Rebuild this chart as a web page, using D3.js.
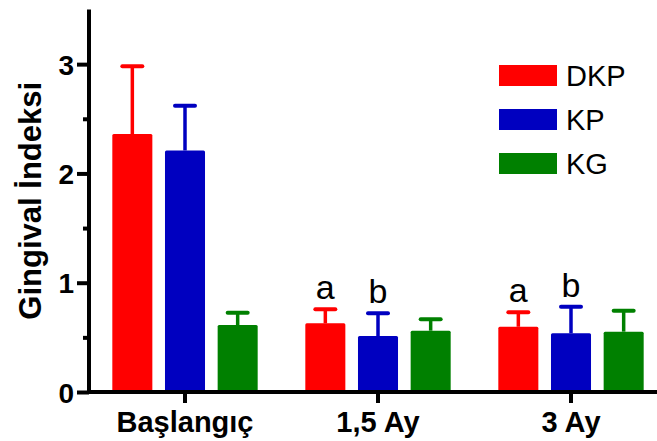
<!DOCTYPE html>
<html>
<head>
<meta charset="utf-8">
<script src="https://cdn.jsdelivr.net/npm/d3@7"></script>
<style>
  html, body { margin: 0; padding: 0; background: #fff; }
  svg { display: block; }
  text { font-family: "Liberation Sans", Arial, sans-serif; }
</style>
</head>
<body>
<svg id="chart" width="657" height="441"></svg>
<script>
// ---- data ----
const categories = ["Başlangıç", "1,5 Ay", "3 Ay"];
const seriesNames = ["DKP", "KP", "KG"];
const seriesColors = ["#ff0000", "#0000c0", "#008000"];
const dkpMean = [2.36, 0.628, 0.597];
const dkpErr  = [0.62, 0.13, 0.132];
const kpMean  = [2.21, 0.512, 0.537];
const kpErr   = [0.41, 0.208, 0.243];
const kgMean  = [0.613, 0.561, 0.552];
const kgErr   = [0.113, 0.104, 0.192];
const yTicks = [0, 1, 2, 3];
const yMinorTicks = [0.5, 1.5, 2.5];
const letterCategories = ["1,5 Ay", "1,5 Ay", "3 Ay", "3 Ay"];
const letterSeries = ["DKP", "KP", "DKP", "KP"];
const letterTexts = ["a", "b", "a", "b"];
const yLabel = "Gingival İndeksi";

const means = [dkpMean, kpMean, kgMean];
const errs = [dkpErr, kpErr, kgErr];
const data = [];
categories.forEach((c, ci) => {
  seriesNames.forEach((s, si) => {
    data.push({cat: c, series: s, si, mean: means[si][ci], err: errs[si][ci]});
  });
});

const svg = d3.select("#chart");
const axisX = 89, zeroY = 392;

const x0 = d3.scaleBand().domain(categories).range([88.5, 667.5]).paddingInner(0).paddingOuter(0);
const x1 = d3.scaleBand().domain(seriesNames).range([-79, 79]).paddingInner(0.24).paddingOuter(0.12);
const y = d3.scaleLinear().domain([0, 3.5]).range([zeroY, 9.5]);
const color = d3.scaleOrdinal().domain(seriesNames).range(seriesColors);

// bars
const g = svg.append("g");
g.selectAll("rect.bar").data(data).enter().append("rect")
  .attr("class", "bar")
  .attr("x", d => x0(d.cat) + x0.bandwidth() / 2 + x1(d.series))
  .attr("y", d => y(d.mean))
  .attr("width", x1.bandwidth())
  .attr("height", d => y(0) - y(d.mean))
  .attr("rx", 1.5)
  .attr("fill", d => color(d.series));

// error bars (upper only)
const cx = d => x0(d.cat) + x0.bandwidth() / 2 + x1(d.series) + x1.bandwidth() / 2;
g.selectAll("line.stem").data(data).enter().append("line")
  .attr("x1", cx).attr("x2", cx)
  .attr("y1", d => y(d.mean)).attr("y2", d => y(d.mean + d.err))
  .attr("stroke", d => color(d.series)).attr("stroke-width", 3.5);
g.selectAll("line.cap").data(data).enter().append("line")
  .attr("x1", d => cx(d) - 10).attr("x2", d => cx(d) + 10)
  .attr("y1", d => y(d.mean + d.err)).attr("y2", d => y(d.mean + d.err))
  .attr("stroke", d => color(d.series)).attr("stroke-width", 4)
  .attr("stroke-linecap", "round");

// significance letters
letterTexts.forEach((t, i) => {
  const d = data.find(e => e.cat === letterCategories[i] && e.series === letterSeries[i]);
  svg.append("text")
    .attr("x", cx(d))
    .attr("y", y(d.mean + d.err) - 10)
    .attr("text-anchor", "middle")
    .attr("font-size", 34)
    .attr("fill", "#000")
    .text(t);
});

// y axis
const yAxis = d3.axisLeft(y).tickValues(yTicks).tickSize(12).tickPadding(3).tickFormat(d3.format("d"));
const ya = svg.append("g").attr("transform", `translate(${axisX},0)`).call(yAxis);
ya.select(".domain").remove();
ya.selectAll(".tick line").attr("stroke", "#000").attr("stroke-width", 4);
ya.selectAll(".tick text").attr("font-size", 28).attr("font-weight", "bold")
  .attr("fill", "#000").attr("dy", "0.36em")
  .style("font-family", '"Liberation Sans", Arial, sans-serif');
const yMinor = d3.axisLeft(y).tickValues(yMinorTicks).tickSize(6).tickFormat("");
const ym = svg.append("g").attr("transform", `translate(${axisX},0)`).call(yMinor);
ym.select(".domain").remove();
ym.selectAll(".tick line").attr("stroke", "#000").attr("stroke-width", 4);
svg.append("line").attr("x1", axisX).attr("x2", axisX)
  .attr("y1", y(3.5)).attr("y2", zeroY + 2)
  .attr("stroke", "#000").attr("stroke-width", 4);

// x axis
const xAxis = d3.axisBottom(x0).tickSize(11).tickPadding(8);
const xa = svg.append("g").attr("transform", `translate(0,${zeroY})`).call(xAxis);
xa.select(".domain").remove();
xa.selectAll(".tick line").attr("stroke", "#000").attr("stroke-width", 4);
xa.selectAll(".tick text").attr("font-size", 29).attr("font-weight", "bold")
  .attr("fill", "#000")
  .style("font-family", '"Liberation Sans", Arial, sans-serif');
svg.append("line").attr("x1", axisX - 2).attr("x2", 657)
  .attr("y1", zeroY).attr("y2", zeroY)
  .attr("stroke", "#000").attr("stroke-width", 4);

// y label
svg.append("text")
  .attr("transform", `translate(41,${(y(3.5) + zeroY) / 2}) rotate(-90)`)
  .attr("text-anchor", "middle")
  .attr("font-size", 31)
  .attr("font-weight", "bold")
  .attr("fill", "#000")
  .text(yLabel);

// legend
const legend = svg.append("g").attr("transform", "translate(499,65)");
seriesNames.forEach((s, i) => {
  const lg = legend.append("g").attr("transform", `translate(0,${i * 44})`);
  lg.append("rect").attr("width", 58).attr("height", 21).attr("fill", color(s));
  lg.append("text").attr("x", 67).attr("y", 21).attr("font-size", 29)
    .attr("fill", "#000").text(s);
});
</script>
</body>
</html>
